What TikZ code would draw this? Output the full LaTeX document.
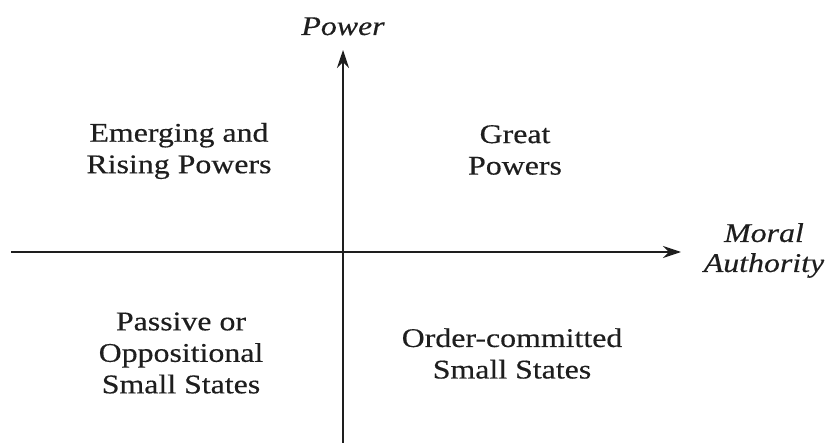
\documentclass[tikz,border=0pt]{standalone}
\usepackage{fontspec}
\setmainfont{Liberation Serif}[FakeStretch=1.18,FakeBold=0.4]
\usetikzlibrary{arrows.meta}
\definecolor{ink}{HTML}{1E1E1E}
\begin{document}
\begin{tikzpicture}[x=1pt,y=-1pt,
  axis/.style={draw=ink,line width=2pt,-{Stealth[length=18pt,width=12pt,inset=6pt]}},
  lbl/.style={text=ink,inner sep=0pt,align=center,font=\fontsize{27}{31.5}\selectfont},
  axlbl/.style={lbl,font=\fontsize{27}{30}\selectfont\itshape}]
\useasboundingbox (0,0) rectangle (826,443);
\coordinate (vs) at (343,443);
\coordinate (ve) at (343,50);
\coordinate (hs) at (11,252);
\coordinate (he) at (681,252);
\draw[axis] (vs) -- (ve);
\draw[axis] (hs) -- (he);
\node[axlbl,anchor=base] (power) at (343,35) {Power};
\node[axlbl] (moral) at (764,250.5) {Moral\\Authority};
\node[lbl] (emerging) at (179,151) {Emerging and\\Rising Powers};
\node[lbl] (great) at (515,150) {Great\\Powers};
\node[lbl] (passive) at (181,353) {Passive or\\Oppositional\\Small States};
\node[lbl] (order) at (512,353.5) {Order-committed\\Small States};
\end{tikzpicture}
\end{document}
